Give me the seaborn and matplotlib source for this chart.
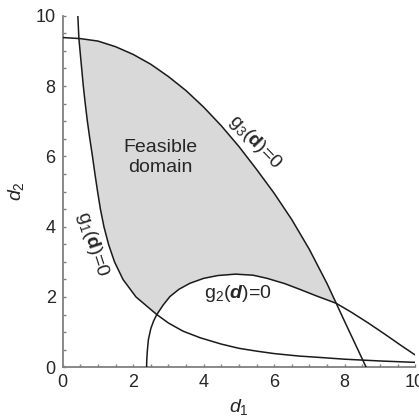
import numpy as np
import matplotlib.pyplot as plt
import seaborn as sns
from matplotlib.ticker import MultipleLocator

# constraint curves
g1_x = [0.43, 0.46, 0.52, 0.585, 0.64, 0.70, 0.77, 0.845, 0.915, 0.99, 1.07, 1.17, 1.30,
        1.47, 1.71, 2.08, 2.67, 3.0, 3.41, 3.9, 4.5, 5.0, 5.5, 6.0, 6.7, 7.3, 8.0, 9.0, 10.0]
g1_y = [10.0, 9.35, 8.7, 8.0, 7.5, 7.0, 6.5, 6.0, 5.5, 5.0, 4.5, 4.0, 3.5,
        3.0, 2.5, 2.0, 1.5, 1.26, 1.03, 0.84, 0.66, 0.54, 0.46, 0.39, 0.32, 0.28, 0.23, 0.18, 0.14]

g2_x = [2.38, 2.385, 2.40, 2.43, 2.5, 2.58, 2.67, 2.85, 3.04, 3.3, 3.61, 4.0, 4.4, 4.9,
        5.4, 5.8, 6.3, 6.72, 7.2, 7.76, 8.2, 8.7, 9.2, 9.6, 10.0]
g2_y = [0.0, 0.2, 0.45, 0.78, 1.1, 1.32, 1.5, 1.77, 2.01, 2.22, 2.39, 2.53, 2.61, 2.65,
        2.62, 2.53, 2.38, 2.22, 2.03, 1.82, 1.56, 1.24, 0.9, 0.62, 0.35]

g3_x = [0, 0.5, 1, 1.5, 2, 2.5, 3, 3.5, 4, 4.5, 5, 5.5, 6, 6.5, 7, 7.5, 7.76, 8.0, 8.3, 8.61]
g3_y = [9.38, 9.35, 9.28, 9.12, 8.9, 8.62, 8.27, 7.87, 7.4, 6.87, 6.28, 5.63, 4.95, 4.2,
        3.35, 2.38, 1.82, 1.3, 0.66, 0.0]

sns.set_theme(style="ticks")
plt.rcParams["font.family"] = ["Liberation Sans", "DejaVu Sans"]
plt.rcParams.update({
    "mathtext.fontset": "custom",
    "mathtext.rm": "Liberation Sans",
    "mathtext.it": "Liberation Sans:italic",
    "mathtext.bf": "Liberation Sans:bold",
    "mathtext.bfit": "Liberation Sans:italic:bold",
})

fig = plt.figure(figsize=(4.19, 4.19), dpi=100)
ax = fig.add_axes([0.1496, 0.1234, 0.8413, 0.839])

# feasible domain: left of g3, right of g1, above g2
g1x, g1y = np.array(g1_x), np.array(g1_y)
g2x, g2y = np.array(g2_x), np.array(g2_y)
g3x, g3y = np.array(g3_x), np.array(g3_y)
m1 = (g1y <= 9.35) & (g1y >= 1.5)
m2 = (g2x >= 2.67) & (g2x <= 7.76)
m3 = (g3x >= 0.46) & (g3x <= 7.76)
px = np.concatenate([g1x[m1], g2x[m2], g3x[m3][::-1]])
py = np.concatenate([g1y[m1], g2y[m2], g3y[m3][::-1]])
ax.fill(px, py, color="#d9d9d9", lw=0, zorder=1)

for xs, ys in [(g1_x, g1_y), (g2_x, g2_y), (g3_x, g3_y)]:
    sns.lineplot(x=xs, y=ys, ax=ax, color="#1a1a1a", lw=1.1, sort=False,
                 estimator=None, zorder=3)

ax.set_xlim(0, 10)
ax.set_ylim(0, 10)
ax.xaxis.set_major_locator(MultipleLocator(2))
ax.yaxis.set_major_locator(MultipleLocator(2))
ax.xaxis.set_minor_locator(MultipleLocator(0.5))
ax.yaxis.set_minor_locator(MultipleLocator(0.5))
ax.tick_params(which="both", direction="in", color="#808080", width=1.0, labelsize=13)
ax.tick_params(which="major", length=2.4, pad=5)
ax.tick_params(which="minor", length=2.2)
for s in ["top", "right"]:
    ax.spines[s].set_visible(False)
for s in ["left", "bottom"]:
    ax.spines[s].set_color("#808080")
    ax.spines[s].set_linewidth(1.3)

ax.set_xlabel(r"$d_1$", fontsize=14, labelpad=4)
ax.set_ylabel(r"$d_2$", fontsize=14, labelpad=7)

ax.text(2.77, 5.97, "Feasible\ndomain", fontsize=14, ha="center", va="center",
        linespacing=1.2, zorder=4)
ax.text(4.97, 1.96, r"g$_2$($\mathbfit{d}$)=0", fontsize=14, ha="center",
        va="baseline", zorder=4)
ax.text(5.45, 6.42, r"g$_3$($\mathbf{d}$)=0", fontsize=14, ha="center",
        va="center", rotation=-46, rotation_mode="anchor", zorder=4)
ax.text(0.84, 3.51, r"g$_1$($\mathbf{d}$)=0", fontsize=14, ha="center",
        va="center", rotation=-72, rotation_mode="anchor", zorder=4)

fig.savefig("out.png", dpi=100)
